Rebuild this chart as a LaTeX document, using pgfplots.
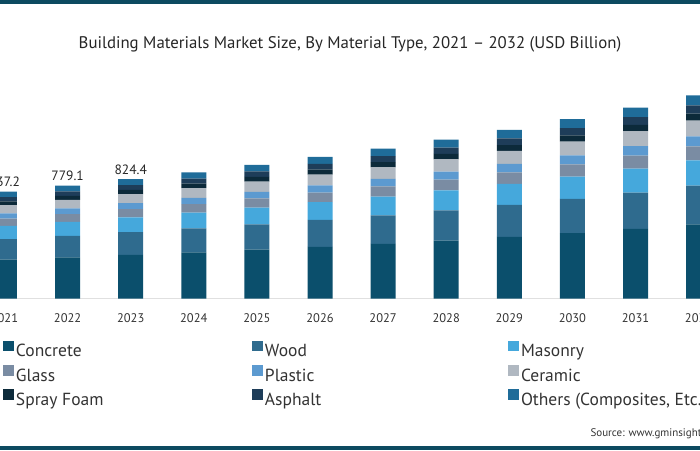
\documentclass[border=0pt]{standalone}
\usepackage{pgfplots}
\pgfplotsset{compat=1.18}
\usepackage{fontspec}
\setmainfont{PT Sans}
\definecolor{cConcrete}{HTML}{0B4F6C}
\definecolor{cWood}{HTML}{2F6B8E}
\definecolor{cMasonry}{HTML}{45A8DC}
\definecolor{cGlass}{HTML}{7A8CA3}
\definecolor{cPlastic}{HTML}{5C9AD0}
\definecolor{cCeramic}{HTML}{B0B8C1}
\definecolor{cSpray}{HTML}{0C2A3A}
\definecolor{cAsphalt}{HTML}{1E3D59}
\definecolor{cOthers}{HTML}{1F6C99}
\definecolor{cStripe}{HTML}{0D4A60}
\definecolor{cText}{HTML}{333333}
\begin{document}
\begin{tikzpicture}[x=1pt,y=1pt]
\useasboundingbox (0,0) rectangle (700,450);
\clip (0,0) rectangle (700,450);
\fill[cStripe] (0pt,446pt) rectangle (700pt,450pt);
\fill[cStripe] (0pt,0pt) rectangle (700pt,4pt);
\node[font=\fontsize{16.8}{19}\selectfont, text=black!85] at (350pt,406pt) {Building Materials Market Size, By Material Type, 2021 – 2032 (USD Billion)};
\node[font=\fontsize{11}{13}\selectfont, text=cText, anchor=base west] at (587pt,13.5pt) {Source: www.gminsights.com};
\begin{axis}[
  at={(0pt,151.5pt)}, anchor=south west,
  scale only axis, width=700pt, height=220pt,
  xmin=-0.0713, xmax=11.0222, ymin=0, ymax=1519,
  ybar stacked, bar width=25pt,
  axis y line=none,
  axis x line*=bottom,
  x axis line style={-, draw=black!12},
  xtick={0,1,2,3,4,5,6,7,8,9,10,11},
  xticklabels={2021,2022,2023,2024,2025,2026,2027,2028,2029,2030,2031,2032},
  major tick length=0pt,
  xticklabel style={font=\fontsize{12.5}{15}\selectfont, text=cText, anchor=center, yshift=-20pt},
  legend columns=3,
  legend style={at={(axis description cs:0.004,-0.19)}, anchor=north west, draw=none, fill=none,
    inner sep=0pt, font=\fontsize{17.5}{20}\selectfont, text=cText,
    /tikz/every even column/.append style={column sep=7pt},
    row sep=4.4pt, cells={anchor=west}},
  legend image code/.code={\fill[#1] (0pt,0.3pt) rectangle (11pt,11pt);},
  every axis plot/.append style={draw=none},
]
\addplot[fill=cConcrete] coordinates {(0,269.1) (1,284.4) (2,300.9) (3,317.9) (4,336.9) (5,357.0) (6,377.8) (7,400.4) (8,424.9) (9,451.9) (10,481.1) (11,512.1)};
\addplot[fill=cWood] coordinates {(0,140.1) (1,148.0) (2,156.6) (3,165.5) (4,175.4) (5,185.8) (6,196.7) (7,208.4) (8,221.2) (9,235.2) (10,250.4) (11,266.6)};
\addplot[fill=cMasonry] coordinates {(0,92.2) (1,97.4) (2,103.1) (3,108.9) (4,115.4) (5,122.3) (6,129.4) (7,137.1) (8,145.5) (9,154.8) (10,164.8) (11,175.4)};
\addplot[fill=cGlass] coordinates {(0,50.1) (1,53.0) (2,56.1) (3,59.2) (4,62.8) (5,66.5) (6,70.4) (7,74.6) (8,79.2) (9,84.2) (10,89.6) (11,95.4)};
\addplot[fill=cPlastic] coordinates {(0,36.9) (1,39.0) (2,41.2) (3,43.6) (4,46.2) (5,48.9) (6,51.8) (7,54.9) (8,58.2) (9,61.9) (10,65.9) (11,70.2)};
\addplot[fill=cCeramic] coordinates {(0,56.8) (1,60.0) (2,63.5) (3,67.1) (4,71.1) (5,75.3) (6,79.7) (7,84.5) (8,89.6) (9,95.3) (10,101.5) (11,108.0)};
\addplot[fill=cSpray] coordinates {(0,25.8) (1,27.3) (2,28.9) (3,30.5) (4,32.3) (5,34.2) (6,36.2) (7,38.4) (8,40.7) (9,43.3) (10,46.1) (11,49.1)};
\addplot[fill=cAsphalt] coordinates {(0,29.5) (1,31.2) (2,33.0) (3,34.8) (4,36.9) (5,39.1) (6,41.4) (7,43.9) (8,46.6) (9,49.5) (10,52.7) (11,56.1)};
\addplot[fill=cOthers, point meta=explicit symbolic,
  nodes near coords, nodes near coords style={font=\fontsize{13.5}{16}\selectfont, text=black!85, anchor=south, yshift=4pt}]
  coordinates {(0,36.7)[737.2] (1,38.8)[779.1] (2,41.1)[824.4] (3,43.5)[] (4,46.0)[] (5,48.9)[] (6,51.6)[] (7,54.8)[] (8,58.1)[] (9,61.9)[] (10,65.9)[] (11,70.1)[]};
\legend{\makebox[227pt][l]{Concrete},\makebox[234pt][l]{Wood},Masonry,Glass,Plastic,Ceramic,Spray Foam,Asphalt,{Others (Composites, Etc.)}}
\end{axis}
\end{tikzpicture}
\end{document}
